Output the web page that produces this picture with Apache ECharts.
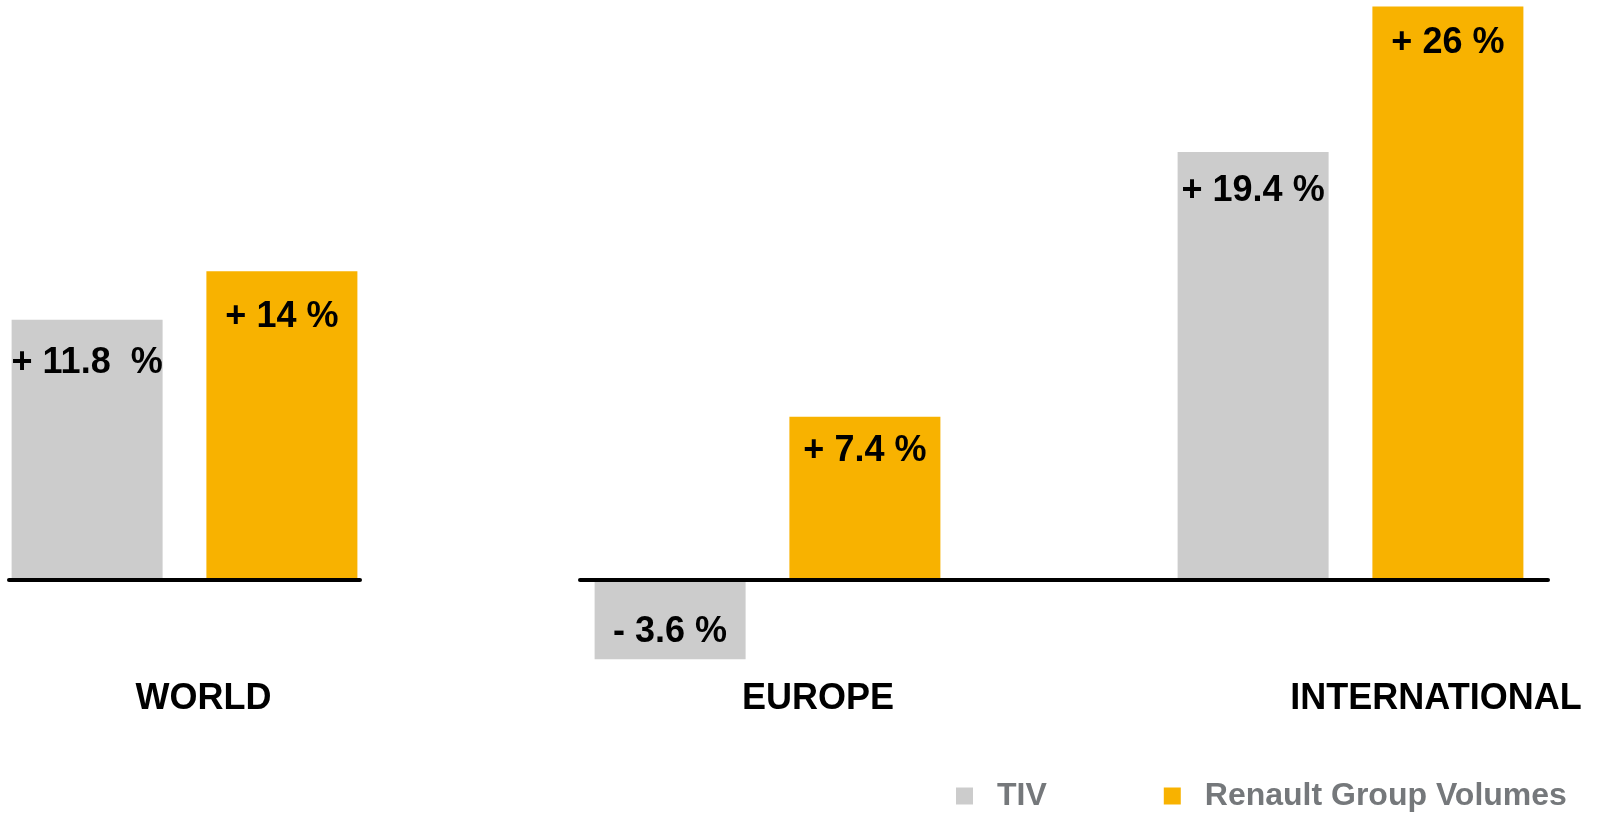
<!DOCTYPE html>
<html>
<head>
<meta charset="utf-8">
<script src="https://cdn.jsdelivr.net/npm/echarts@6/dist/echarts.min.js"></script>
<style>
html,body{margin:0;padding:0;background:#fff;}
#chart{width:1597px;height:815px;}
</style>
</head>
<body>
<div id="chart"></div>
<script>
const categories = ['WORLD', 'EUROPE', 'INTERNATIONAL'];
const seriesNames = ['TIV', 'Renault Group Volumes'];
const tivValues = [11.8, -3.6, 19.4];
const renaultValues = [14, 7.4, 26];
const tivLabels = ['+ 11.8  %', '- 3.6 %', '+ 19.4 %'];
const renaultLabels = ['+ 14 %', '+ 7.4 %', '+ 26 %'];

const FONT = "'Liberation Sans', Arial, Helvetica, sans-serif";
const GRAY = '#CCCCCC';
const ORANGE = '#F8B200';
const yMin = -4, yMax = 26.3;
const gridTop = 0, gridHeight = 668;

// label placement styles per category (not data)
const tivLabelPos = [
  {position: 'insideTop', distance: 25},
  {position: 'inside', offset: [0, 13]},
  {position: 'insideTop', distance: 21}
];
const renLabelPos = [
  {position: 'insideTop', distance: 28},
  {position: 'insideTop', distance: 16},
  {position: 'insideTop', distance: 18}
];
// horizontal shifts of category titles (padding-left, style only)
const catPad = [38, 101, 171];

function buildData(values, labels, pos, from, to) {
  const out = [];
  for (let i = from; i < to; i++) {
    out.push({
      value: values[i],
      label: Object.assign({
        show: true,
        formatter: labels[i],
        color: '#000',
        fontFamily: FONT,
        fontWeight: 'bold',
        fontSize: 36
      }, pos[i])
    });
  }
  return out;
}

function catData(from, to) {
  const out = [];
  for (let i = from; i < to; i++) {
    out.push({value: categories[i], textStyle: {padding: [0, 0, 0, catPad[i]]}});
  }
  return out;
}

const axisLabelStyle = {
  show: true, interval: 0, color: '#000', fontFamily: FONT,
  fontWeight: 'bold', fontSize: 36, margin: 13
};

function yAx(idx) {
  return {gridIndex: idx, type: 'value', min: yMin, max: yMax, show: false};
}

const option = {
  animation: false,
  backgroundColor: '#fff',
  legend: {
    data: seriesNames,
    left: 951,
    top: 775,
    itemWidth: 17,
    itemHeight: 17,
    itemGap: 117,
    icon: 'rect',
    textStyle: {color: '#75787B', fontFamily: FONT, fontWeight: 'bold', fontSize: 32, padding: [0, 0, 0, 19]}
  },
  grid: [
    {left: 9, width: 351, top: gridTop, height: gridHeight, outerBoundsMode: 'none', containLabel: false},
    {left: 476, width: 1166, top: gridTop, height: gridHeight, outerBoundsMode: 'none', containLabel: false},
    {left: 580, width: 968, top: gridTop, height: gridHeight, outerBoundsMode: 'none', containLabel: false}
  ],
  xAxis: [
    {gridIndex: 0, type: 'category', data: catData(0, 1), z: 3,
     axisLine: {show: true, onZero: true, lineStyle: {color: '#000', width: 4}},
     axisTick: {show: false}, axisLabel: axisLabelStyle, splitLine: {show: false}},
    {gridIndex: 1, type: 'category', data: catData(1, 3), z: 3,
     axisLine: {show: false, onZero: true},
     axisTick: {show: false}, axisLabel: axisLabelStyle, splitLine: {show: false}},
    {gridIndex: 2, type: 'category', data: ['', ''], z: 3,
     axisLine: {show: true, onZero: true, lineStyle: {color: '#000', width: 4}},
     axisTick: {show: false}, axisLabel: {show: false}, splitLine: {show: false}}
  ],
  yAxis: [yAx(0), yAx(1), yAx(2)],
  series: [
    {name: seriesNames[0], type: 'bar', xAxisIndex: 0, yAxisIndex: 0, barWidth: 151, barGap: '29%',
     itemStyle: {color: GRAY}, data: buildData(tivValues, tivLabels, tivLabelPos, 0, 1)},
    {name: seriesNames[1], type: 'bar', xAxisIndex: 0, yAxisIndex: 0, barWidth: 151, barGap: '29%',
     itemStyle: {color: ORANGE}, data: buildData(renaultValues, renaultLabels, renLabelPos, 0, 1)},
    {name: seriesNames[0], type: 'bar', xAxisIndex: 1, yAxisIndex: 1, barWidth: 151, barGap: '29%',
     itemStyle: {color: GRAY}, data: buildData(tivValues, tivLabels, tivLabelPos, 1, 3)},
    {name: seriesNames[1], type: 'bar', xAxisIndex: 1, yAxisIndex: 1, barWidth: 151, barGap: '29%',
     itemStyle: {color: ORANGE}, data: buildData(renaultValues, renaultLabels, renLabelPos, 1, 3)}
  ]
};

const chart = echarts.init(document.getElementById('chart'), null, {renderer: 'canvas'});
chart.setOption(option);
</script>
</body>
</html>
